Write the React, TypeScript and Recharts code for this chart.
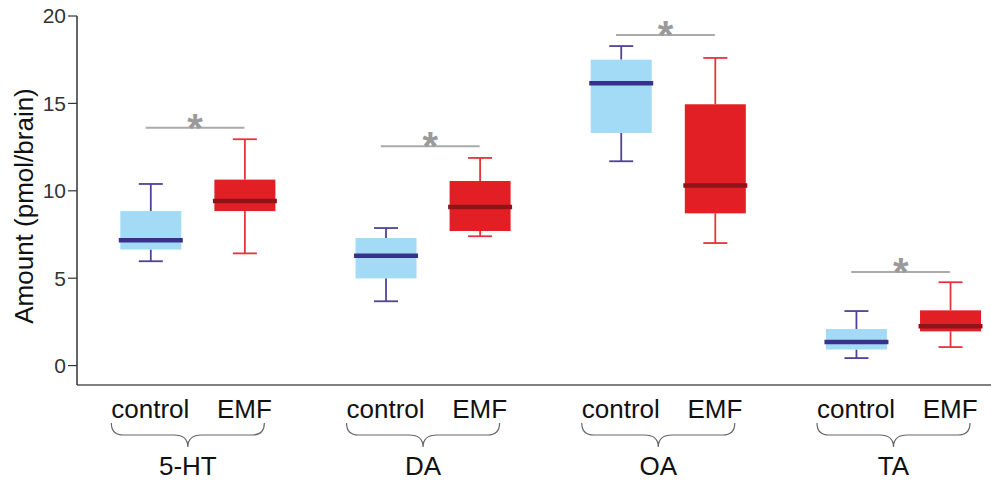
import { ComposedChart, Bar, XAxis, YAxis, ReferenceLine } from "recharts"

const groupNames = ["5-HT", "DA", "OA", "TA"]
const conditionNames = ["control", "EMF"]

// amounts in pmol/brain, one value per group
const controlMin = [5.97, 3.68, 11.69, 0.43]
const controlQ1 = [6.64, 4.99, 13.31, 0.92]
const controlMedian = [7.17, 6.29, 16.15, 1.35]
const controlQ3 = [8.84, 7.3, 17.5, 2.09]
const controlMax = [10.39, 7.87, 18.28, 3.12]

const emfMin = [6.42, 7.4, 7.01, 1.06]
const emfQ1 = [8.84, 7.7, 8.71, 1.96]
const emfMedian = [9.42, 9.07, 10.31, 2.25]
const emfQ3 = [10.64, 10.56, 14.95, 3.16]
const emfMax = [12.95, 11.88, 17.6, 4.77]

// height of the "*" bracket above each pair
const significanceLevel = [13.6, 12.55, 18.92, 5.36]

const yTicks = [0, 5, 10, 15, 20]

// x layout in axis units: groups 5 apart, EMF 2 right of control
const groupStep = 5
const conditionShift = [0, 2]

const palette = [
	{ fill: "#a3daf5", whisker: "#4e4399", median: "#38308a" },
	{ fill: "#e31f26", whisker: "#e8333a", median: "#8e1419" },
]

const boxes = groupNames.flatMap((_, i) => [
	{
		x: i * groupStep + conditionShift[0],
		cond: 0,
		min: controlMin[i],
		q1: controlQ1[i],
		median: controlMedian[i],
		q3: controlQ3[i],
		max: controlMax[i],
		box: [controlQ1[i], controlQ3[i]],
	},
	{
		x: i * groupStep + conditionShift[1],
		cond: 1,
		min: emfMin[i],
		q1: emfQ1[i],
		median: emfMedian[i],
		q3: emfQ3[i],
		max: emfMax[i],
		box: [emfQ1[i], emfQ3[i]],
	},
])

const boxTicks = boxes.map((b) => b.x)
const xDomain = [-1.559, 17.87]
const font = "'Liberation Sans', Arial, sans-serif"

function BoxShape(props: any) {
	const { x, y, width, height, payload } = props
	const { q1, q3, min, max, median, cond } = payload
	const top = Math.min(y, y + height)
	const bottom = Math.max(y, y + height)
	const toPx = (v: number) => bottom - ((bottom - top) * (v - q1)) / (q3 - q1)
	const cx = x + width / 2
	const c = palette[cond]
	const cap = 12
	return (
		<g>
			<line x1={cx} x2={cx} y1={toPx(max)} y2={top} stroke={c.whisker} strokeWidth={1.8} />
			<line x1={cx - cap} x2={cx + cap} y1={toPx(max)} y2={toPx(max)} stroke={c.whisker} strokeWidth={1.8} />
			<line x1={cx} x2={cx} y1={bottom} y2={toPx(min)} stroke={c.whisker} strokeWidth={1.8} />
			<line x1={cx - cap} x2={cx + cap} y1={toPx(min)} y2={toPx(min)} stroke={c.whisker} strokeWidth={1.8} />
			<rect x={x} y={top} width={width} height={bottom - top} fill={c.fill} />
			<line
				x1={x - 1.5}
				x2={x + width + 1.5}
				y1={toPx(median)}
				y2={toPx(median)}
				stroke={c.median}
				strokeWidth={4.5}
			/>
		</g>
	)
}

// condition label under each box; under each control box also the brace + group name
function ConditionTick(props: any) {
	const { x, y, payload } = props
	const box = boxes.find((b) => b.x === payload.value)
	if (!box) return null
	const label = (
		<text x={x} y={y + 25} textAnchor="middle" fontSize={26} fill="#111" fontFamily={font}>
			{conditionNames[box.cond]}
		</text>
	)
	if (box.cond !== 0) return label
	const group = Math.round(box.x / groupStep)
	const cx = x + 37.5
	const l = cx - 76.5
	const r = cx + 76.5
	const y0 = y + 30
	const y1 = y + 42
	const y2 = y + 54
	const d = `M${l},${y0} Q${l},${y1} ${l + 12},${y1} L${cx - 14},${y1} Q${cx},${y1} ${cx},${y2} Q${cx},${y1} ${cx + 14},${y1} L${r - 12},${y1} Q${r},${y1} ${r},${y0}`
	return (
		<g>
			{label}
			<path d={d} fill="none" stroke="#666" strokeWidth={1.2} />
			<text x={cx} y={y + 82} textAnchor="middle" fontSize={26} fill="#111" fontFamily={font}>
				{groupNames[group]}
			</text>
		</g>
	)
}

function StarLabel(props: any) {
	const { viewBox } = props
	if (!viewBox) return null
	return (
		<text
			x={viewBox.x + viewBox.width / 2}
			y={viewBox.y + 14}
			textAnchor="middle"
			fontSize={40}
			fontWeight="bold"
			fill="#9a9a9a"
			fontFamily={font}
		>
			*
		</text>
	)
}

function YLabel() {
	return (
		<text
			transform="translate(24, 206) rotate(-90)"
			textAnchor="middle"
			dominantBaseline="central"
			fontSize={26}
			fill="#111"
			fontFamily={font}
		>
			Amount (pmol/brain)
		</text>
	)
}

export default function App() {
	return (
		<div style={{ position: "absolute", left: 0, top: 0, width: 991, height: 483, background: "#fff" }}>
			<ComposedChart
				width={991}
				height={483}
				data={boxes}
				margin={{ top: 16, right: 0, bottom: 0, left: 0 }}
				style={{ fontFamily: font }}
			>
				<XAxis
					dataKey="x"
					type="number"
					domain={xDomain}
					allowDataOverflow
					ticks={boxTicks}
					interval={0}
					tickLine={false}
					axisLine={{ stroke: "#808080", strokeWidth: 2 }}
					height={98}
					tick={<ConditionTick />}
				/>
				<YAxis
					type="number"
					domain={[-1.11, 20]}
					allowDataOverflow
					ticks={yTicks}
					interval={0}
					width={77}
					tickSize={9}
					axisLine={{ stroke: "#333", strokeWidth: 1.5 }}
					tickLine={{ stroke: "#333", strokeWidth: 1.2 }}
					tick={{ fill: "#333", fontSize: 21, fontFamily: font }}
					label={<YLabel />}
				/>
				<Bar dataKey="box" barSize={61} shape={<BoxShape />} isAnimationActive={false} />
				{significanceLevel.map((v, i) => (
					<ReferenceLine
						key={i}
						segment={[
							{ x: i * groupStep - 0.1, y: v },
							{ x: i * groupStep + 2, y: v },
						]}
						stroke="#aaa"
						strokeWidth={2}
						label={<StarLabel />}
					/>
				))}
			</ComposedChart>
		</div>
	)
}
